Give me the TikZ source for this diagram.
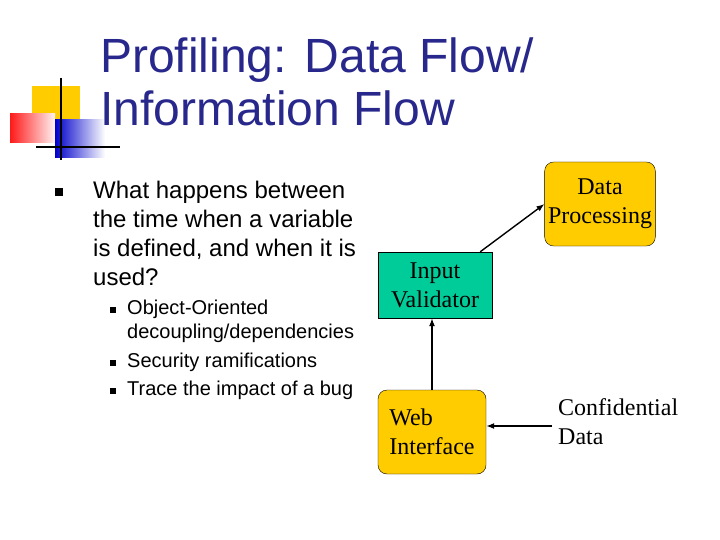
\documentclass[tikz,border=0pt]{standalone}
\usepackage{fontspec}
\setmainfont{Liberation Sans}
\newfontfamily\serifnode{Liberation Serif}
\usetikzlibrary{arrows.meta}
\definecolor{titleblue}{RGB}{40,40,140}
\definecolor{boxgold}{RGB}{255,204,0}
\definecolor{boxteal}{RGB}{0,204,153}
\tikzset{
  procbox/.style={draw, fill=boxgold, rounded corners=9pt, font=\serifnode\fontsize{24}{29}\selectfont, align=center},
  flow/.style={-{Latex[length=8pt,width=6pt]}, line width=1.4pt}
}
\begin{document}
\begin{tikzpicture}[x=1pt,y=-1pt]
	      \useasboundingbox (0,0) rectangle (720,540);
	      % Logo
	      \fill[boxgold] (32,86) rectangle (80,128);
	      \shade[left color=red!90, right color=red!5] (10,114) rectangle (55,143);
	      \shade[left color=blue!80!black, right color=white] (55,120) rectangle (105,158);
	      \draw[line width=2.5pt] (61,78)--(61,160);
	      \draw[line width=2.5pt] (36,147)--(120,147);
	      % Title
	      \node[anchor=north west, inner sep=0pt, text=titleblue, font=\fontsize{48}{53}\selectfont, align=left] (title) at (100,38) {Profiling: Data Flow/\\Information Flow};
	      % Bullets
	      \fill (55,188) rectangle (63,196);
	      \node[anchor=north west, inner sep=0pt, font=\fontsize{24}{29}\selectfont, align=left] (main) at (93,181) {What happens between\\the time when a variable\\is defined, and when it is\\used?};
	      \foreach \y/\t [count=\i] in {300/{Object-Oriented\\decoupling/dependencies}, 353/Security ramifications, 381/Trace the impact of a bug}
	        \node[anchor=north west, inner sep=0pt, font=\fontsize{20}{24}\selectfont, align=left] (sub\i) at (127,\y) {\t};
	      \foreach \y in {316,369,397}
	        \fill (110,\y-9) rectangle (116,\y-3);
	      % Diagram
	      \node[procbox, minimum width=108pt, minimum height=84pt] (proc) at (600,204) {Data\\Processing};
	      \node[draw, fill=boxteal, minimum width=114pt, minimum height=66pt, font=\serifnode\fontsize{24}{29}\selectfont, align=center] (valid) at (435,285) {Input\\Validator};
	      \node[procbox, minimum width=108pt, minimum height=84pt, align=left] (web) at (432,432) {Web\phantom{ace}\\Interface};
	      \node[anchor=west, inner sep=0pt, font=\serifnode\fontsize{24}{29}\selectfont, align=left] (conf) at (558,422) {Confidential\\Data};
	      \draw[flow] (valid.north east)++(-12,0) coordinate (vtop) -- (proc.west);
	      \draw[flow] (web.north) -- (valid.south -| web.north);
	      \draw[flow] (conf.west) ++(-6,4) coordinate (cw) -- (cw -| web.east);
	    \end{tikzpicture}
\end{document}
